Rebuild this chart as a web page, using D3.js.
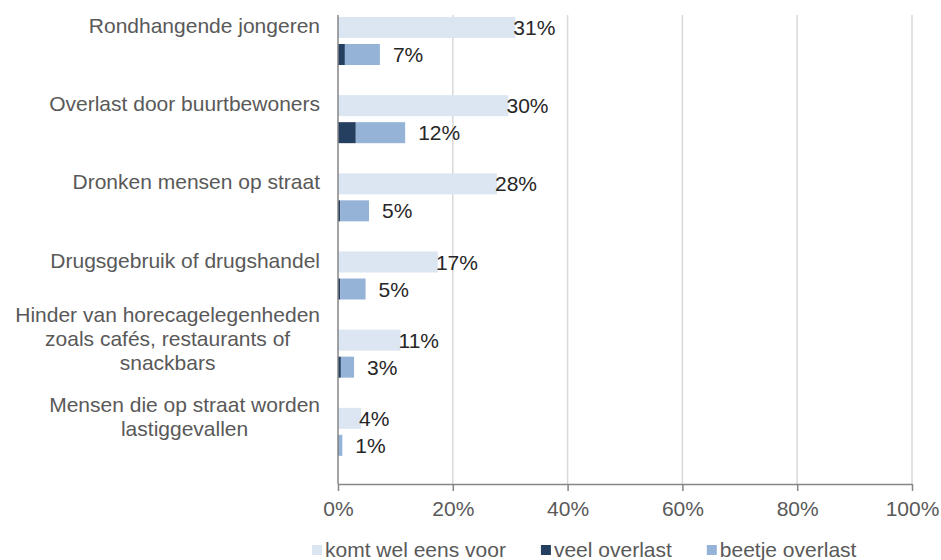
<!DOCTYPE html>
<html>
<head>
<meta charset="utf-8">
<script src="https://cdn.jsdelivr.net/npm/d3@7"></script>
<style>
html,body{margin:0;padding:0;background:#fff;}
svg{display:block;font-family:Arial,"Liberation Sans",sans-serif;}
</style>
</head>
<body>
<svg id="chart"></svg>
<script>
const W=941,H=560;
const svg=d3.select("#chart").attr("width",W).attr("height",H);

// data
const categories=[
    ["Rondhangende jongeren"],
    ["Overlast door buurtbewoners"],
    ["Dronken mensen op straat"],
    ["Drugsgebruik of drugshandel"],
    ["Hinder van horecagelegenheden","zoals cafés, restaurants of","snackbars"],
    ["Mensen die op straat worden","lastiggevallen"]
];
const komtVoor=[30.9,29.7,27.7,17.4,10.9,4.0];
const veelOverlast=[1.2,3.1,0.4,0.4,0.5,0.1];
const beetjeOverlast=[6.1,8.6,5.0,4.4,2.3,0.65];
const xTicks=[0,20,40,60,80,100];
const seriesNames=["komt wel eens voor","veel overlast","beetje overlast"];
const colors=["#dce6f2","#243f60","#95b3d7"];

const FONT=21;
const keys=categories.map((c,i)=>i);

const x=d3.scaleLinear().domain([0,100]).range([338,912]);
const y=d3.scaleBand().domain(keys).range([15,484]);
const inner=d3.scaleBand().domain(["komt","overlast"]).range([2,50]).paddingInner(0.222);

// ---------- grid ----------
svg.append("g")
    .selectAll("line")
    .data(xTicks.filter(t=>t>0))
    .join("line")
    .attr("x1",d=>x(d)).attr("x2",d=>x(d))
    .attr("y1",y.range()[0]).attr("y2",y.range()[1])
    .attr("stroke","#d9d9d9")
    .attr("stroke-width",1.5);

// ---------- bars ----------
const bars=svg.append("g");
keys.forEach(i=>{
    const y0=y(i);
    bars.append("rect")
        .attr("x",x(0))
        .attr("y",y0+inner("komt"))
        .attr("width",x(komtVoor[i])-x(0))
        .attr("height",inner.bandwidth())
        .attr("fill",colors[0]);
    bars.append("rect")
        .attr("x",x(0))
        .attr("y",y0+inner("overlast"))
        .attr("width",x(veelOverlast[i])-x(0))
        .attr("height",inner.bandwidth())
        .attr("fill",colors[1]);
    bars.append("rect")
        .attr("x",x(veelOverlast[i]))
        .attr("y",y0+inner("overlast"))
        .attr("width",x(veelOverlast[i]+beetjeOverlast[i])-x(veelOverlast[i]))
        .attr("height",inner.bandwidth())
        .attr("fill",colors[2]);
});

// ---------- value labels ----------
const labels=svg.append("g")
    .attr("font-size",FONT)
    .attr("fill","#262626");
keys.forEach(i=>{
    const y0=y(i);
    labels.append("text")
        .attr("x",x(komtVoor[i])-2)
        .attr("y",y0+inner("komt")+inner.bandwidth()/2+2)
        .attr("dominant-baseline","middle")
        .text(Math.round(komtVoor[i])+"%");
    const total=veelOverlast[i]+beetjeOverlast[i];
    labels.append("text")
        .attr("x",x(total)+13)
        .attr("y",y0+inner("overlast")+inner.bandwidth()/2+2)
        .attr("dominant-baseline","middle")
        .text(Math.round(total)+"%");
});

// ---------- category labels ----------
const catG=svg.append("g")
    .attr("font-size",FONT)
    .attr("fill","#595959");
const LINE=24;
keys.forEach(i=>{
    const lines=categories[i];
    const cy=y(i)+inner("komt")+inner.bandwidth()/2;
    const t=catG.append("text").attr("text-anchor","middle");
    lines.forEach((l,j)=>{
        t.append("tspan")
            .attr("y",cy+(j-(lines.length-1)/2)*LINE)
            .attr("dominant-baseline","middle")
            .text(l);
    });
    const maxW=d3.max(t.selectAll("tspan").nodes(),n=>n.getComputedTextLength());
    t.selectAll("tspan").attr("x",320-maxW/2);
});

// ---------- axes ----------
const axisY=y.range()[1];
svg.append("line")
    .attr("x1",x(0)).attr("x2",x(0))
    .attr("y1",y.range()[0]).attr("y2",axisY)
    .attr("stroke","#868686").attr("stroke-width",1.5);
const xAxis=svg.append("g")
    .attr("transform",`translate(0,${axisY})`)
    .call(d3.axisBottom(x).tickValues(xTicks).tickFormat(d=>d+"%").tickSize(7).tickSizeOuter(0));
xAxis.select(".domain").attr("stroke","#868686").attr("stroke-width",1.5);
xAxis.selectAll(".tick line").attr("stroke","#868686").attr("stroke-width",1.5);
xAxis.selectAll(".tick text")
    .attr("font-size",FONT)
    .attr("font-family","Arial, 'Liberation Sans', sans-serif")
    .attr("fill","#595959")
    .attr("dy",null)
    .attr("y",32);

// ---------- legend ----------
const legend=svg.append("g")
    .attr("font-size",FONT)
    .attr("fill","#595959");
let lx=312;
seriesNames.forEach((name,i)=>{
    legend.append("rect")
        .attr("x",lx).attr("y",545)
        .attr("width",10).attr("height",10)
        .attr("fill",colors[i]);
    const t=legend.append("text")
        .attr("x",lx+13).attr("y",557)
        .text(name);
    lx+=13+t.node().getComputedTextLength()+35;
});
</script>
</body>
</html>
